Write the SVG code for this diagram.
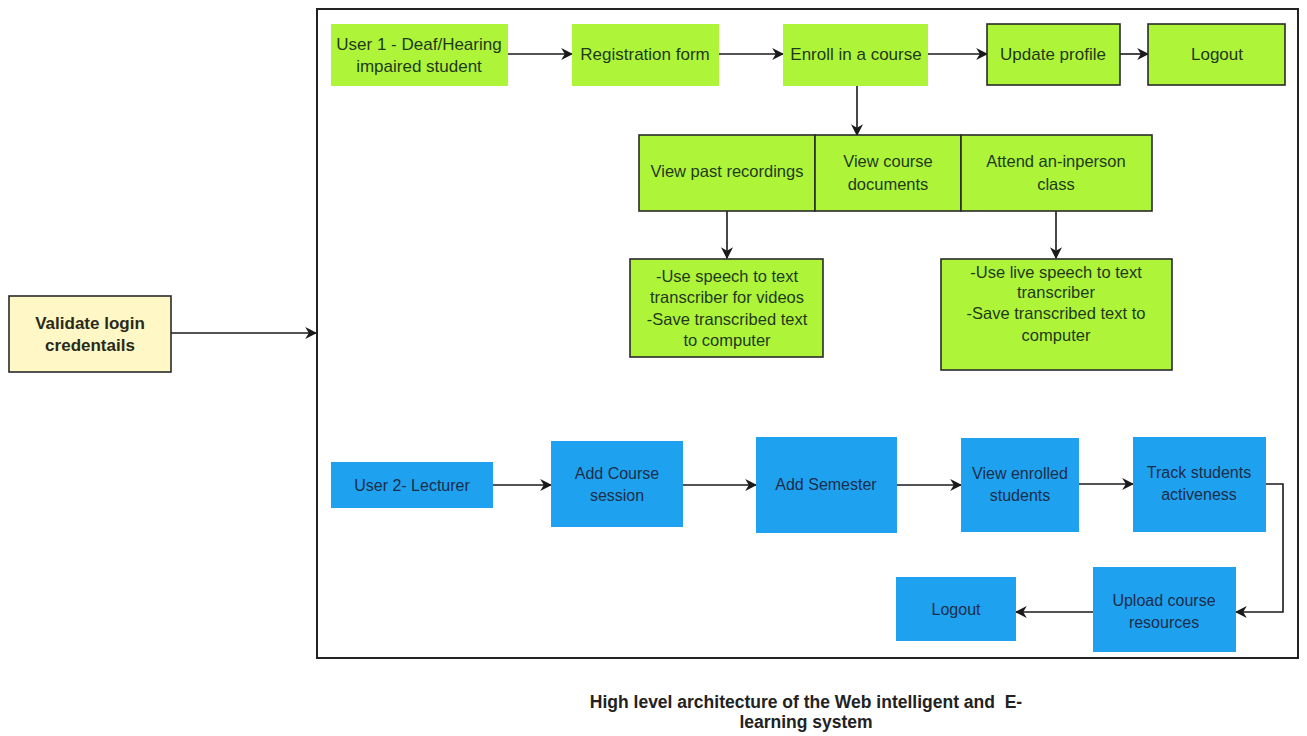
<svg xmlns="http://www.w3.org/2000/svg" width="1307" height="736" viewBox="0 0 1307 736">
<style>
text{font-family:"Liberation Sans",Arial,sans-serif;font-size:16.5px;text-anchor:middle;}
.g{fill:#aef53a;}
.gb{fill:#aef53a;stroke:#2a2a2a;stroke-width:1.6;}
.b{fill:#1ea2f0;}
.gt{fill:#1f3a1a;}
.top{font-size:17px;}
.bt{fill:#1c2d4a;font-size:16px;}
.c{fill:none;stroke:#1a1a1a;stroke-width:1.6;marker-end:url(#ah);}
.cap{font-weight:bold;font-size:17.5px;fill:#222;white-space:pre;}
</style>
<defs>
<marker id="ah" viewBox="0 0 10 10" refX="9" refY="5" markerWidth="12" markerHeight="12" markerUnits="userSpaceOnUse" orient="auto">
<path d="M0,0 L10,5 L0,10 L3,5 z" fill="#1a1a1a"/>
</marker>
</defs>
<rect x="0" y="0" width="1307" height="736" fill="#ffffff"/>
<g id="frame"><rect x="317" y="9" width="981" height="649" fill="none" stroke="#222" stroke-width="2"/></g>
<g id="connectors">
<path class="c" d="M171,333 H316"/>
<path class="c" d="M508,54 H572"/>
<path class="c" d="M719,54 H783"/>
<path class="c" d="M928,54 H987"/>
<path class="c" d="M1120,54 H1148"/>
<path class="c" d="M857,86 V135"/>
<path class="c" d="M727,211 V258"/>
<path class="c" d="M1056,211 V258"/>
<path class="c" d="M493,485 H551"/>
<path class="c" d="M683,485 H756"/>
<path class="c" d="M897,485 H961"/>
<path class="c" d="M1079,484 H1133"/>
<path class="c" d="M1266,484 H1283 V612 H1236"/>
<path class="c" d="M1093,612 H1016"/>
</g>
<g id="validate">
<rect x="9" y="296" width="162" height="76" fill="#fff8c6" stroke="#2a2a2a" stroke-width="1.6"/>
<text x="90" y="329" style="font-weight:bold;font-size:17px;fill:#2a2a1a">Validate login</text>
<text x="90" y="351" style="font-weight:bold;font-size:17px;fill:#2a2a1a">credentails</text>
</g>
<g id="user1"><rect class="g" x="331" y="24" width="177" height="62"/>
<text class="gt top" x="419" y="50">User 1 - Deaf/Hearing</text><text class="gt top" x="419" y="72">impaired student</text></g>
<g id="registration"><rect class="g" x="572" y="24" width="147" height="62"/>
<text class="gt top" x="645" y="60">Registration form</text></g>
<g id="enroll"><rect class="g" x="783" y="24" width="145" height="62"/>
<text class="gt top" x="856" y="60">Enroll in a course</text></g>
<g id="update"><rect class="gb" x="987" y="24" width="133" height="61"/>
<text class="gt top" x="1053" y="60">Update profile</text></g>
<g id="logout1"><rect class="gb" x="1148" y="24" width="137" height="61"/>
<text class="gt top" x="1217" y="60">Logout</text></g>
<g id="pastrec"><rect class="gb" x="639" y="135" width="176" height="76"/>
<text class="gt" x="727" y="177">View past recordings</text></g>
<g id="coursedocs"><rect class="gb" x="815" y="135" width="146" height="76"/>
<text class="gt" x="888" y="167">View course</text><text class="gt" x="888" y="190">documents</text></g>
<g id="inperson"><rect class="gb" x="961" y="135" width="191" height="76"/>
<text class="gt" x="1056" y="167">Attend an-inperson</text><text class="gt" x="1056" y="190">class</text></g>
<g id="transcribe1"><rect class="gb" x="630" y="259" width="193" height="98"/>
<text class="gt" x="727" y="282">-Use speech to text</text>
<text class="gt" x="727" y="303">transcriber for videos</text>
<text class="gt" x="727" y="325">-Save transcribed text</text>
<text class="gt" x="727" y="346">to computer</text></g>
<g id="transcribe2"><rect class="gb" x="941" y="259" width="231" height="111"/>
<text class="gt" x="1056" y="278">-Use live speech to text</text>
<text class="gt" x="1056" y="298">transcriber</text>
<text class="gt" x="1056" y="319">-Save transcribed text to</text>
<text class="gt" x="1056" y="341">computer</text></g>
<g id="user2"><rect class="b" x="331" y="462" width="162" height="46"/>
<text class="bt" x="412" y="491">User 2- Lecturer</text></g>
<g id="addcourse"><rect class="b" x="551" y="441" width="132" height="86"/>
<text class="bt" x="617" y="479">Add Course</text><text class="bt" x="617" y="501">session</text></g>
<g id="addsemester"><rect class="b" x="756" y="437" width="141" height="96"/>
<text class="bt" x="826" y="490">Add Semester</text></g>
<g id="viewenrolled"><rect class="b" x="961" y="438" width="118" height="94"/>
<text class="bt" x="1020" y="479">View enrolled</text><text class="bt" x="1020" y="501">students</text></g>
<g id="track"><rect class="b" x="1133" y="437" width="133" height="95"/>
<text class="bt" x="1199" y="478">Track students</text><text class="bt" x="1199" y="500">activeness</text></g>
<g id="upload"><rect class="b" x="1093" y="567" width="143" height="85"/>
<text class="bt" x="1164" y="606">Upload course</text><text class="bt" x="1164" y="628">resources</text></g>
<g id="logout2"><rect class="b" x="896" y="577" width="120" height="64"/>
<text class="bt" x="956" y="615">Logout</text></g>
<g id="caption">
<text class="cap" x="806" y="708">High level architecture of the Web intelligent and  E-</text>
<text class="cap" x="806" y="728">learning system</text>
</g>
</svg>
